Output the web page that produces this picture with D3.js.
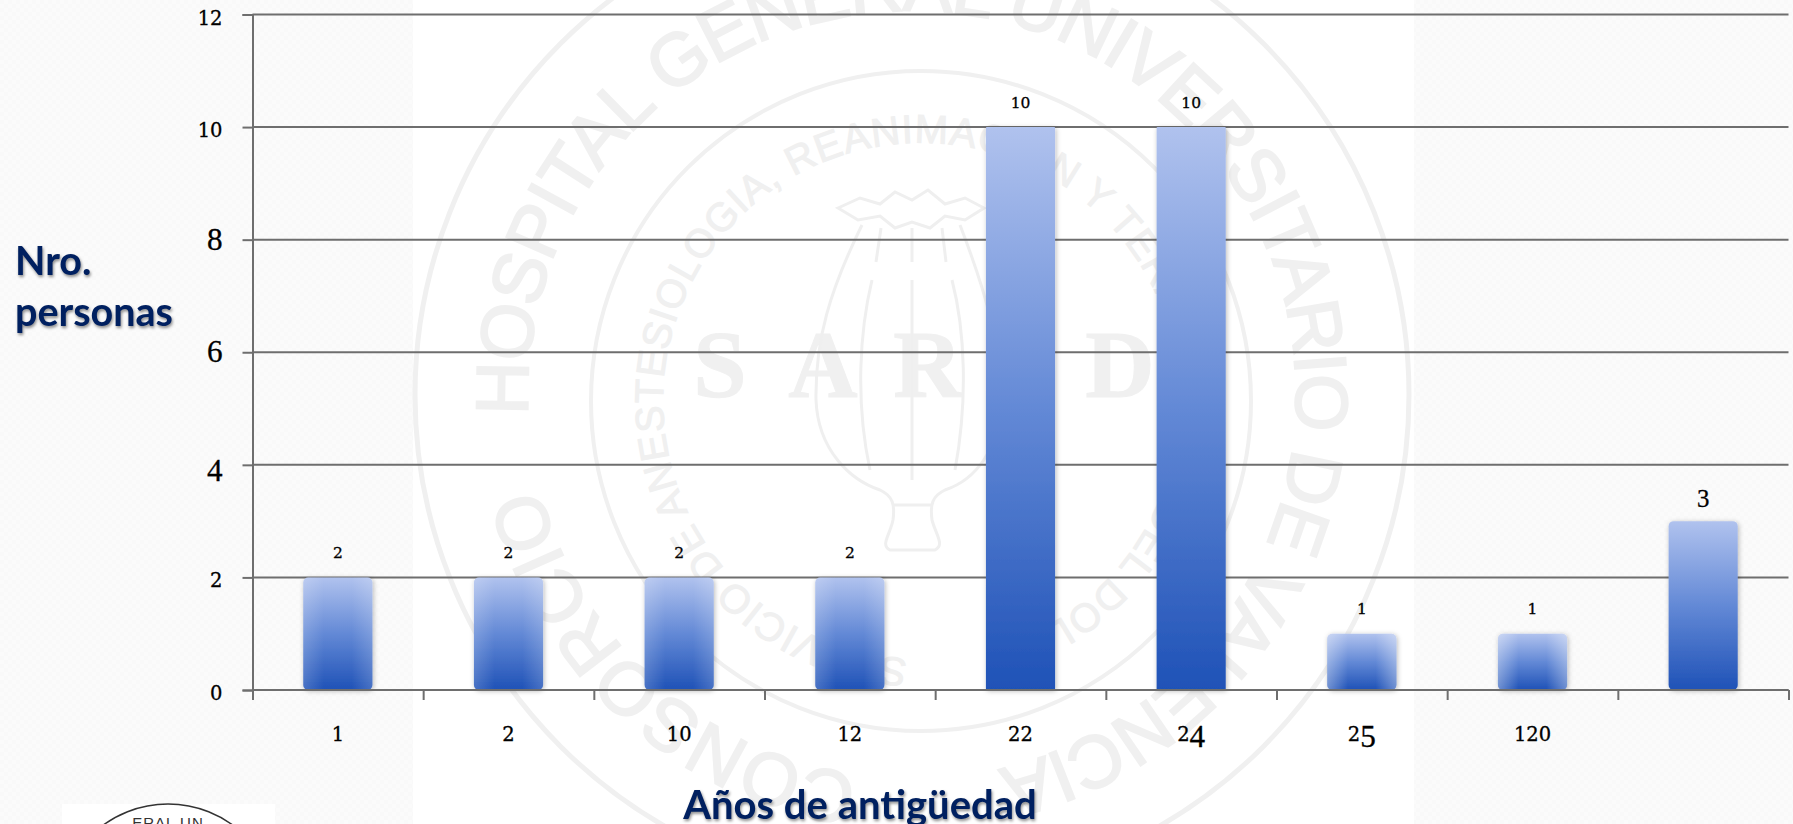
<!DOCTYPE html>
<html><head><meta charset="utf-8">
<script src="https://cdn.jsdelivr.net/npm/d3@7/dist/d3.min.js"></script>
<style>
html,body{margin:0;padding:0;background:#fff;overflow:hidden}
svg{display:block}
.title{font-family:Lato,"Open Sans",sans-serif;font-weight:700;fill:#002060;filter:drop-shadow(1.5px 2px 1.5px rgba(0,0,0,.45))}
.wm{fill:#f0f0f0;stroke:#f0f0f0}
</style></head><body>
<svg id="c" width="1793" height="824"></svg>
<script>
const categories=["1","2","10","12","22","24","25","120",""];
const personas=[2,2,2,2,10,10,1,1,3];
const yTicks=[0,2,4,6,8,10,12];
const yTitle=["Nro.","personas"];
const xTitle="Años de antigüedad";
const ringTop="HOSPITAL GENERAL UNIVERSITARIO DE VALENCIA";
const ringBottom="CONSORCIO";
const ringInner="SERVICIO DE ANESTESIOLOGIA, REANIMACION Y TERAPEUTICA DEL DOLOR";
const sealLetters=[["S",720],["A",823],["R",928],["D",1120]];

const W=1793,H=824,m={l:252.5,r:1788.5,t:14.5,b:690};
const svg=d3.select("#c");
const defs=svg.append("defs");

// backdrop
const pat=defs.append("pattern").attr("id","tex").attr("width",8).attr("height",8).attr("patternUnits","userSpaceOnUse");
pat.append("rect").attr("width",8).attr("height",8).attr("fill","#fbfbfb");
pat.append("rect").attr("width",4).attr("height",4).attr("fill","#f9f9f9");
pat.append("rect").attr("x",4).attr("y",4).attr("width",4).attr("height",4).attr("fill","#f9f9f9");
svg.append("rect").attr("width",W).attr("height",H).attr("fill","url(#tex)");
svg.append("rect").attr("x",413).attr("width",1001).attr("height",H).attr("fill","#fff");

// watermark seal
const wm=svg.append("g");
function ring(cx,cy,r,w){wm.append("circle").attr("cx",cx).attr("cy",cy).attr("r",r).attr("fill","none").attr("stroke","#f0f0f0").attr("stroke-width",w);}
ring(912,395,497,5);ring(921,401,330,4);
function arcText(id,str,cx,cy,r,a0,a1,size,sw){
  const p=d3.path();
  const rad=a=>(a-90)*Math.PI/180;
  p.arc(cx,cy,r,rad(a0),rad(a1+8),false);
  defs.append("path").attr("id",id).attr("d",p.toString());
  wm.append("text").attr("class","wm").attr("font-family","Liberation Sans").attr("font-size",size).attr("stroke-width",sw)
    .append("textPath").attr("href","#"+id).attr("textLength",r*(a1-a0)*Math.PI/180).attr("lengthAdjust","spacing").text(str);
}
arcText("r1",ringTop,912,395,384,-93,167,74,2);
arcText("r2",ringBottom,912,395,384,188,256,74,2);
arcText("r3",ringInner,921,401,258,183,525,40,1);
sealLetters.forEach(([t,x])=>wm.append("text").attr("class","wm").attr("x",x).attr("y",397).attr("text-anchor","middle")
  .attr("font-family","Liberation Serif").attr("font-weight",700).attr("font-size",96).text(t));
// poppy head
const poppy=wm.append("g").attr("fill","none").attr("stroke","#efefef").attr("stroke-width",3);
["M838,208 L860,198 L880,204 L895,192 L912,200 L928,190 L945,204 L965,198 L984,208 L965,220 L945,216 L930,228 L912,222 L895,228 L880,216 L858,220Z",
 "M862,225 C830,290 815,340 816,400 C818,450 850,480 880,490 C893,496 895,505 893,520 C890,535 880,545 890,550 L935,550 C945,545 936,535 932,520 C930,505 932,496 945,490 C975,480 1000,450 1000,400 C1000,340 985,290 960,225",
 "M881,228 L876,262 M912,228 L912,262 M942,228 L946,262 M912,280 L912,480 M872,280 C860,330 855,400 870,470 M952,280 C965,330 968,400 955,470",
 "M893,505 L932,505"
].forEach(d=>poppy.append("path").attr("d",d));

// logo fragment
svg.append("rect").attr("x",62).attr("y",804).attr("width",213).attr("height",20).attr("fill","#fff");
const lp=d3.path();lp.arc(168,914,110,-2.3,-0.84,false);
svg.append("path").attr("d",lp.toString()).attr("fill","none").attr("stroke","#333").attr("stroke-width",1.5);
svg.append("text").attr("x",168).attr("y",828).attr("text-anchor","middle").attr("font-family","Liberation Sans").attr("font-size",15).attr("letter-spacing",1).attr("fill","#333").text("ERAL UN");

// scales
const x=d3.scaleBand().domain(d3.range(categories.length)).range([m.l,m.r]).paddingInner(.595).paddingOuter(.2975);
const edges=d3.scaleLinear().domain([0,categories.length]).range([m.l,m.r]);
const y=d3.scaleLinear().domain([0,12]).range([m.b,m.t]);

// old-style figure emulation
function oldstyle(sel,str,s){
  let off=0;
  sel.text(null).attr("stroke","#000").attr("stroke-width",.3);
  [...String(str)].forEach(c=>{
    const low="012".includes(c), desc="345".includes(c);
    const big=s*1.6;
    const target=desc?big*.2:0;
    sel.append("tspan").attr("dy",target-off).attr("font-family",low?"DejaVu Serif":"Liberation Serif")
      .attr("font-size",low?s:big).text(c);
    off=target;
  });
}

// gridlines + axes
const axisCol="#6e6e6e";
const yAxis=svg.append("g").attr("transform",`translate(${m.l},0)`).call(d3.axisLeft(y).tickValues(yTicks).tickSize(10).tickPadding(20));
yAxis.select(".domain").attr("stroke",axisCol).attr("stroke-width",2);
yAxis.selectAll(".tick line").attr("stroke",axisCol).attr("stroke-width",2);
yAxis.selectAll(".tick text").attr("fill","#000").attr("dy",null).attr("y",9.5).attr("text-anchor","end").each(function(d){oldstyle(d3.select(this),d,19.5);});
svg.append("g").selectAll("line").data(yTicks).join("line").attr("x1",m.l).attr("x2",m.r).attr("y1",d=>y(d)).attr("y2",d=>y(d)).attr("stroke",axisCol).attr("stroke-width",2);

const xTicks=svg.append("g").attr("transform",`translate(0,${m.b})`).call(d3.axisBottom(edges).tickValues(d3.range(categories.length+1)).tickSize(10).tickFormat(""));
xTicks.select(".domain").remove();
xTicks.selectAll(".tick line").attr("stroke",axisCol).attr("stroke-width",2);

const xLabels=svg.append("g").attr("transform",`translate(0,${m.b})`).call(d3.axisBottom(x).tickSize(0).tickFormat(i=>categories[i]));
xLabels.select(".domain").remove();
xLabels.selectAll(".tick text").attr("fill","#000").attr("dy",null).attr("y",51).attr("text-anchor","middle").each(function(i){oldstyle(d3.select(this),categories[i],19.5);});

// bars
const lg=defs.append("linearGradient").attr("id","barFill").attr("x1",0).attr("y1",0).attr("x2",0).attr("y2",1);
[[0,"#b0c2ee"],[.5,"#6389d6"],[1,"#1f52b7"]].forEach(([o,c])=>lg.append("stop").attr("offset",o).attr("stop-color",c));
const eg=defs.append("linearGradient").attr("id","barEdge").attr("x1",0).attr("y1",0).attr("x2",1).attr("y2",0);
[[0,.5],[.3,0],[.7,0],[1,.5]].forEach(([o,a])=>eg.append("stop").attr("offset",o).attr("stop-color","#fff").attr("stop-opacity",a));
const f=defs.append("filter").attr("id","sh").attr("x","-20%").attr("y","-10%").attr("width","140%").attr("height","125%");
f.append("feDropShadow").attr("dx",1).attr("dy",1).attr("stdDeviation",2.5).attr("flood-color","#000").attr("flood-opacity",.28);

const bars=svg.append("g").selectAll("g").data(personas).join("g");
bars.append("rect").attr("fill","url(#barFill)").attr("filter","url(#sh)");
bars.filter(d=>d<=2).append("rect").attr("fill","url(#barEdge)").attr("fill-opacity",d=>d===1?.7:.35);
bars.each(function(d,i){
  d3.select(this).selectAll("rect").attr("x",x(i)).attr("y",y(d)).attr("width",x.bandwidth()).attr("height",y(0)-y(d)).attr("rx",d>=10?1:5);
});
// axis baseline over the bars
svg.append("line").attr("x1",m.l).attr("x2",m.r).attr("y1",y(0)).attr("y2",y(0)).attr("stroke",axisCol).attr("stroke-width",2);

// value labels
svg.append("g").selectAll("text").data(personas).join("text").attr("fill","#000").attr("text-anchor","middle")
  .attr("x",(d,i)=>x(i)+x.bandwidth()/2).attr("y",d=>y(d)-19.5).each(function(d){oldstyle(d3.select(this),d,15.5);});

// titles
svg.append("text").attr("class","title").attr("x",15).attr("y",275).attr("font-size",39.5).text(yTitle[0]);
svg.append("text").attr("class","title").attr("x",15).attr("y",326).attr("font-size",39.5).text(yTitle[1]);
svg.append("text").attr("class","title").attr("x",860).attr("y",819).attr("text-anchor","middle").attr("font-size",40).text(xTitle);
</script>
</body></html>
